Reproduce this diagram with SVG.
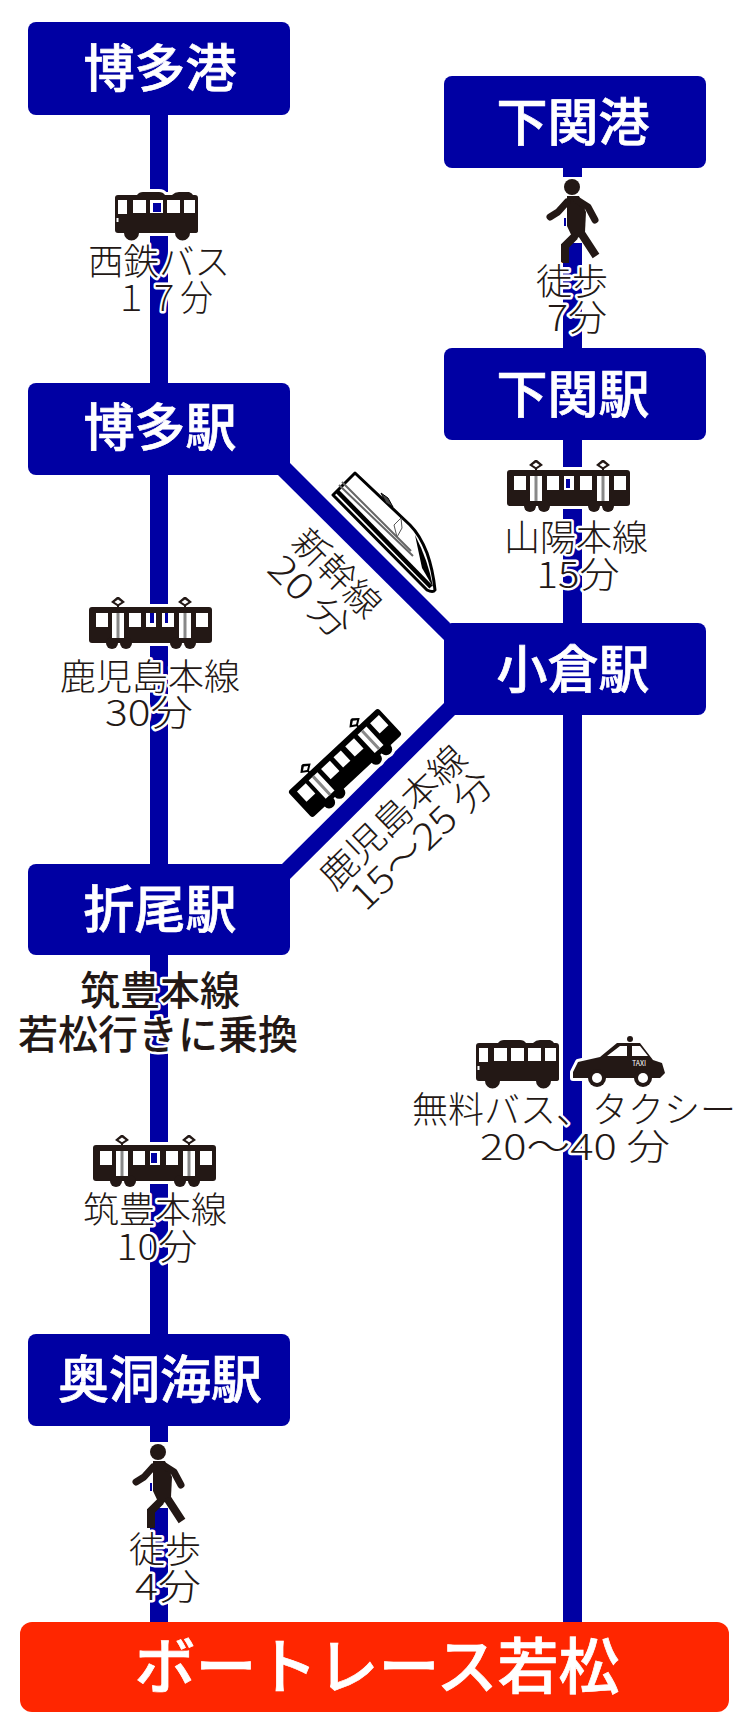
<svg xmlns="http://www.w3.org/2000/svg" xmlns:xlink="http://www.w3.org/1999/xlink" width="750" height="1732" viewBox="0 0 750 1732">
<style>
.ln{fill:#0000a3}
.box{fill:#0000a3}
.red{fill:#ff2600}
text{font-family:"Noto Sans CJK JP","Noto Sans",sans-serif}
.nt{fill:#fff;stroke:#fff;stroke-width:.7px;font-size:51px;font-weight:500;text-anchor:middle}
.big{font-size:61px}
.lb{fill:#231815;font-size:36px;font-weight:300;text-anchor:middle;stroke:#fff;stroke-width:5px;paint-order:stroke;stroke-linejoin:round}
.lb2{font-size:40px;font-weight:500}
.win{fill:#fff}
.spot{fill:#0000a3}
.halo{fill:#fff;stroke:#fff;stroke-width:6px;stroke-linejoin:round}
</style>
<defs>
<g id="train-shape">
<rect x="0" y="10" width="123" height="36" rx="3"/>
<circle cx="23" cy="46" r="6"/><circle cx="37" cy="46" r="6"/><circle cx="87" cy="46" r="6"/><circle cx="101" cy="46" r="6"/>
<path d="M22 5L28 0H30L36 5L30 9V11H28V9ZM89 5L95 0H97L103 5L97 9V11H95V9Z"/>
</g>
<g id="train">
<use xlink:href="#train-shape" class="halo"/>
<use xlink:href="#train-shape" fill="currentColor"/>
<g class="win"><path d="M25.500 5L29 2.500L32.500 5L29 7.200ZM92.500 5L96 2.500L99.500 5L96 7.200Z"/><rect x="7" y="16" width="12" height="14"/><rect x="40" y="16" width="12" height="14"/><rect x="57" y="16" width="10" height="14"/><rect x="73" y="16" width="12" height="14"/><rect x="107" y="16" width="12" height="14"/><rect x="23" y="16" width="12" height="25"/><rect x="90" y="16" width="12" height="25"/></g>
<path d="M29 16V41M96 16V41" stroke="#888" stroke-width="3"/>
</g>
<g id="bus-shape">
<path d="M3 3H22Q24 0 28 0H44Q48 0 50 3H57Q60 0 64 0H74Q77 1 78 3H80Q83 3 83 6V39Q83 41 80 41H75A7 7 0 0 1 60 41H24A7 7 0 0 1 9 41H3Q0 41 0 38V6Q0 3 3 3Z"/>
</g>
<g id="bus">
<use xlink:href="#bus-shape" class="halo"/>
<use xlink:href="#bus-shape" fill="currentColor"/>
<g class="win"><rect x="3" y="8" width="9" height="14"/><rect x="18" y="8" width="13" height="13"/><rect x="35" y="8" width="13" height="13"/><rect x="52" y="8" width="13" height="13"/><rect x="69" y="8" width="11" height="13"/><rect x="1.500" y="26" width="2" height="4"/></g>
</g>
<g id="walker">
<rect x="562" y="177" width="21" height="66" fill="#fff"/>
<rect class="spot" x="564" y="218" width="2" height="8"/>
<g fill="currentColor">
<circle cx="572" cy="187" r="8"/>
<polygon points="567,196 579,196 586,212 585,232 574,241 567,226"/>
<path d="M567 202L558 212L550 217M577 200L588 207L595 220" fill="none" stroke-width="7" stroke="currentColor" stroke-linejoin="round" stroke-linecap="round"/>
<path d="M575 236L565 246V263M581 233L596 256" fill="none" stroke-width="8" stroke="currentColor"/>
</g>
</g>
</defs>

<g id="connectors">
<rect class="ln" x="150" y="100" width="18" height="1530"/>
<rect class="ln" x="563" y="150" width="19" height="1480"/>
<polygon class="ln" points="290,463 450,623 444,640 278,475"/>
<polygon class="ln" points="444,703 282,864 290,879 455,715"/>
</g>

<g id="node-hakata-port"><rect class="box" x="28" y="22" width="262" height="93" rx="8"/><text class="nt" x="160" y="87">博多港</text></g>
<g id="node-shimonoseki-port"><rect class="box" x="444" y="76" width="262" height="92" rx="8"/><text class="nt" x="573" y="141">下関港</text></g>
<g id="node-shimonoseki"><rect class="box" x="444" y="348" width="262" height="92" rx="8"/><text class="nt" x="573" y="413">下関駅</text></g>
<g id="node-hakata"><rect class="box" x="28" y="383" width="262" height="92" rx="8"/><text class="nt" x="160" y="446">博多駅</text></g>
<g id="node-kokura"><rect class="box" x="444" y="623" width="262" height="92" rx="8"/><text class="nt" x="573" y="688">小倉駅</text></g>
<g id="node-orio"><rect class="box" x="28" y="864" width="262" height="91" rx="8"/><text class="nt" x="160" y="928">折尾駅</text></g>
<g id="node-okudokai"><rect class="box" x="28" y="1334" width="262" height="92" rx="8"/><text class="nt" x="160" y="1398">奥洞海駅</text></g>
<g id="node-boatrace"><rect class="red" x="20" y="1622" width="709" height="90" rx="12"/><text class="nt big" x="377" y="1689">ボートレース若松</text></g>

<g id="icons" color="#231815">
<use xlink:href="#bus" x="115" y="192"/>
<rect class="spot" x="153" y="203" width="8" height="9"/>
<use xlink:href="#train" x="507" y="460"/>
<rect class="spot" x="566" y="479" width="4" height="9"/>
<use xlink:href="#train" x="89" y="597"/>
<rect class="spot" x="150" y="613" width="4" height="10"/><rect class="spot" x="165" y="613" width="3" height="10"/>
<use xlink:href="#train" x="93" y="1135"/>
<rect class="spot" x="151" y="1153" width="6" height="10"/>
<g transform="translate(345 763) rotate(-43) translate(-61.500 -28)" color="#000"><use xlink:href="#train"/></g>
<use xlink:href="#bus" x="476" y="1040"/>
<use xlink:href="#walker"/>
<use xlink:href="#walker" transform="translate(-414 1265)"/>
<g id="taxi">
<path class="halo" d="M573 1072L578 1062L600 1057L617 1043H640L653 1060L662 1063L665 1073L660 1078H573Z"/>
<circle cx="597" cy="1078" r="11" fill="#fff"/><circle cx="643" cy="1078" r="11" fill="#fff"/>
<path fill="currentColor" d="M573 1072L578 1062L600 1057L617 1043H640L653 1060L662 1063L665 1073L660 1078H573Z"/>
<circle cx="630" cy="1039" r="3" fill="currentColor"/>
<circle cx="597" cy="1078" r="9" fill="currentColor"/><circle cx="597" cy="1078" r="5" fill="#fff"/>
<circle cx="643" cy="1078" r="9" fill="currentColor"/><circle cx="643" cy="1078" r="5" fill="#fff"/>
<path class="win" d="M607 1056L620 1046H627V1056ZM632 1046H640L648 1056H632Z"/>
<text x="639" y="1066" fill="#fff" font-size="7" text-anchor="middle">TAXI</text>
</g>
<g id="shinkansen">
<path d="M355 473L333 495L427 590Q433 593 435 590Q433 570 427 553Q420 535 410 525Z" fill="#fff" stroke="#000" stroke-width="3" stroke-linejoin="round"/>
<path d="M337 491L431 587" stroke="#000" stroke-width="4.500" fill="none"/>
<path d="M339 485L413 556M342 482L411 551" stroke="#666" stroke-width="2" fill="none"/>
<path d="M381 493L388 498L393 507L386 503Z" fill="#444" stroke="#000"/>
<path d="M415 535Q428 560 433 587L422 568Z" fill="#000"/>
<path d="M394 525L401 518L402 528L397 537Z" fill="#fff" stroke="#555"/>
</g>
</g>

<g id="labels">
<text class="lb" x="159" y="275" textLength="142" lengthAdjust="spacingAndGlyphs">西鉄バス</text>
<text class="lb" x="164" y="311" textLength="98" lengthAdjust="spacingAndGlyphs">１７分</text>
<text class="lb" x="572" y="295">徒歩</text>
<text class="lb" x="577" y="331" textLength="60" lengthAdjust="spacingAndGlyphs">7分</text>
<text class="lb" x="576" y="551">山陽本線</text>
<text class="lb" x="578" y="588" textLength="83" lengthAdjust="spacingAndGlyphs">15分</text>
<text class="lb" x="150" y="690">鹿児島本線</text>
<text class="lb" x="149" y="726" textLength="88" lengthAdjust="spacingAndGlyphs">30分</text>
<text class="lb lb2" x="160" y="1005">筑豊本線</text>
<text class="lb lb2" x="158" y="1049">若松行きに乗換</text>
<text class="lb" x="574" y="1123">無料バス、タクシー</text>
<text class="lb" x="575" y="1160" textLength="190" lengthAdjust="spacingAndGlyphs">20～40 分</text>
<text class="lb" x="155" y="1223">筑豊本線</text>
<text class="lb" x="157" y="1260" textLength="81" lengthAdjust="spacingAndGlyphs">10分</text>
<text class="lb" x="165" y="1563">徒歩</text>
<text class="lb" x="168" y="1600" textLength="66" lengthAdjust="spacingAndGlyphs">4分</text>
<g transform="translate(337 573) rotate(45)"><text class="lb" y="13">新幹線</text></g>
<g transform="translate(310 597) rotate(45)"><text class="lb" y="13" textLength="100" lengthAdjust="spacingAndGlyphs">20 分</text></g>
<g transform="translate(393 817) rotate(-44)"><text class="lb" y="13" textLength="188" lengthAdjust="spacingAndGlyphs">鹿児島本線</text></g>
<g transform="translate(422 840) rotate(-44)"><text class="lb" y="13" textLength="182" lengthAdjust="spacingAndGlyphs">15～25 分</text></g>
</g>
</svg>
